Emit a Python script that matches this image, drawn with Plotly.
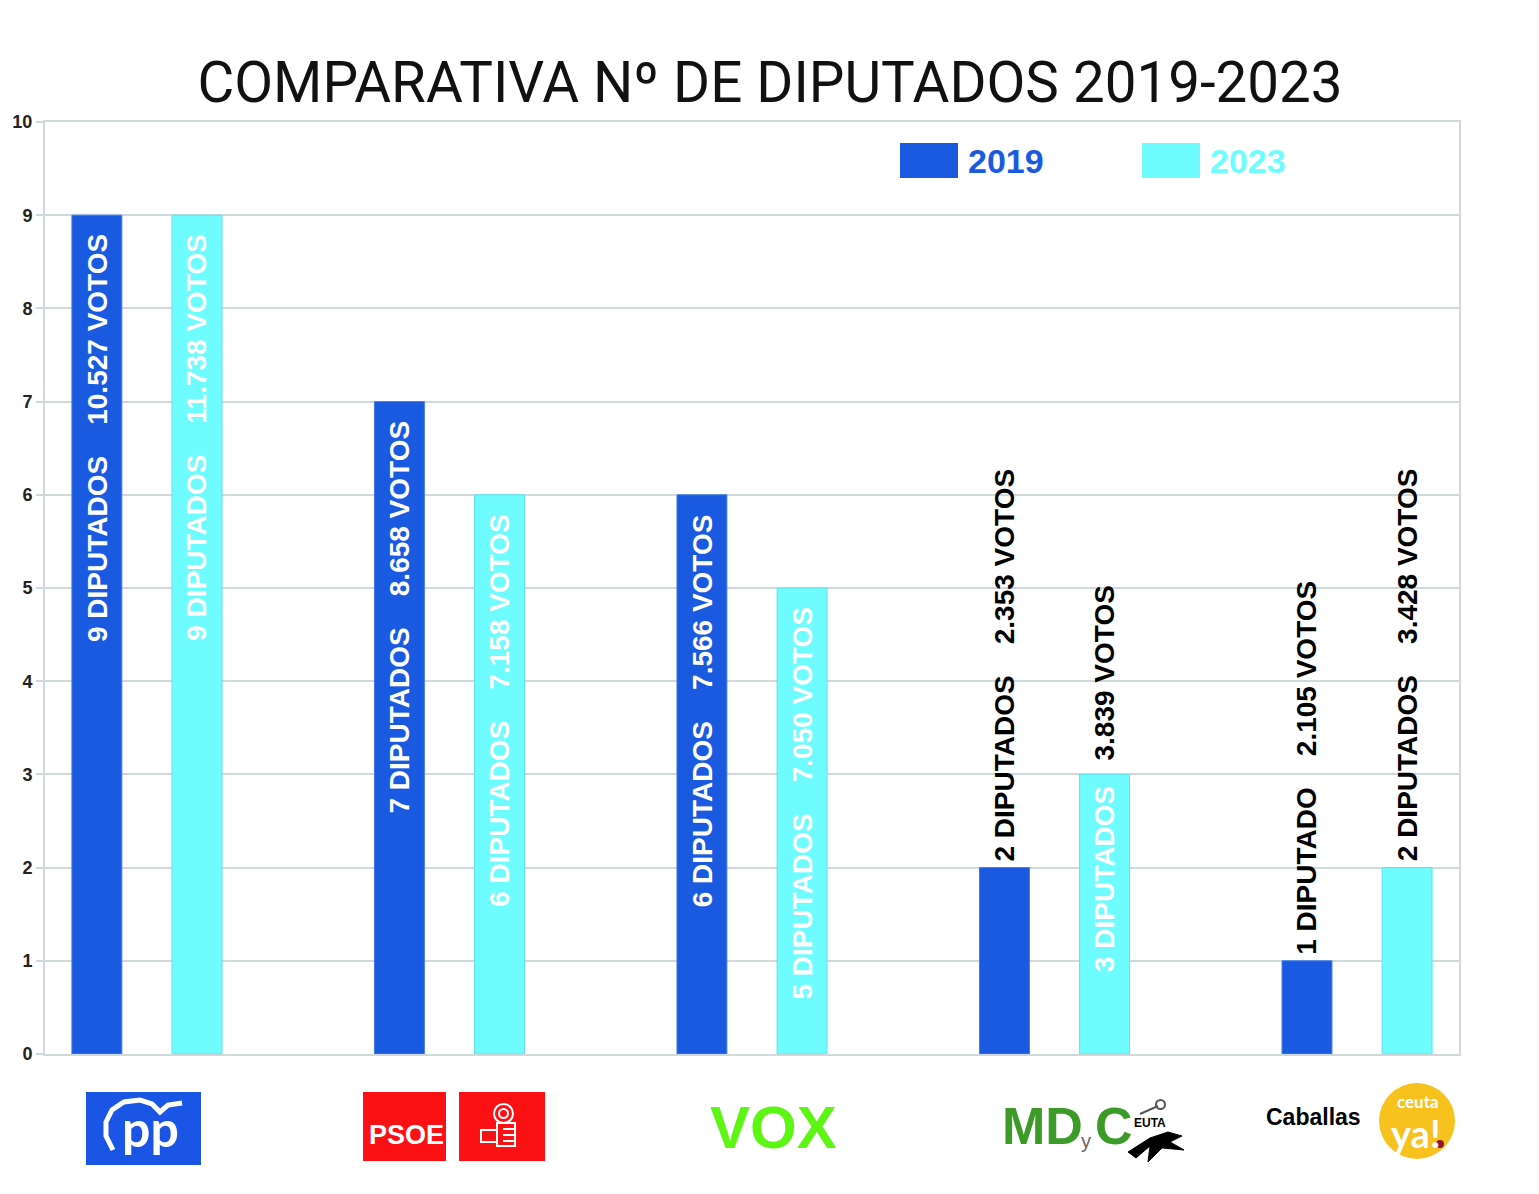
import plotly.graph_objects as go

# Datos
partidos = ['PP', 'PSOE', 'VOX', 'MDyC', 'Caballas']
diputados_2019 = [9, 7, 6, 2, 1]
diputados_2023 = [9, 6, 5, 3, 2]
votos_2019 = ['10.527', '8.658', '7.566', '2.353', '2.105']
votos_2023 = ['11.738', '7.158', '7.050', '3.839', '3.428']
years = ['2019', '2023']

AZUL = '#1a5ae0'
CIAN = '#6ffcff'
GRID = '#cfd9dc'

# page has an 8px body margin -> figure is 8px smaller and shifted
FIG_W, FIG_H = 1531, 1186
# plot area in page pixels (for logos / legend placed in paper coords)
L, T, W, H = 45, 122, 1414, 932


def px(x):
    return (x - L) / W


def py(y):
    return (T + H - y) / H


def path(points, close=False):
    s = 'M ' + ' L '.join(f'{px(a):.5f},{py(b):.5f}' for a, b in points)
    return s + (' Z' if close else '')


def note(x, y, text, font, xanchor='center', yanchor='middle'):
    return dict(x=px(x), y=py(y), xref='paper', yref='paper', text=text, showarrow=False,
                xanchor=xanchor, yanchor=yanchor, font=font)


fig = go.Figure()

BAR_W = 0.165
OFFSETS = [-0.248, 0.083]

fig.add_trace(go.Bar(
    x=partidos, y=diputados_2019, name='2019',
    width=BAR_W, offset=OFFSETS[0],
    marker=dict(color=AZUL, line=dict(color='#3f7ce6', width=1)),
    hoverinfo='skip'
))
fig.add_trace(go.Bar(
    x=partidos, y=diputados_2023, name='2023',
    width=BAR_W, offset=OFFSETS[1],
    marker=dict(color=CIAN, line=dict(color='#5fe0ee', width=1)),
    hoverinfo='skip'
))

# Vertical labels on the bars
label_font = dict(family='Liberation Sans, Arial', size=28, weight='bold')
gap = '\u00a0' * 4
annotations = []
for k, (vals, votos) in enumerate([(diputados_2019, votos_2019), (diputados_2023, votos_2023)]):
    for i, (v, s) in enumerate(zip(vals, votos)):
        xc = i + OFFSETS[k] + BAR_W / 2
        dip = f"{v}\u00a0{'DIPUTADO' if v == 1 else 'DIPUTADOS'}"
        vot = f"{s}\u00a0VOTOS"
        if v >= 5:
            annotations.append(dict(x=xc, y=v, xref='x', yref='y', text=dip + gap + vot,
                                    textangle=-90, showarrow=False, xanchor='center', yanchor='top',
                                    yshift=-17, font=dict(label_font, color='white')))
        elif v >= 3:
            annotations.append(dict(x=xc, y=v, xref='x', yref='y', text=dip,
                                    textangle=-90, showarrow=False, xanchor='center', yanchor='top',
                                    yshift=-10, font=dict(label_font, color='white')))
            annotations.append(dict(x=xc, y=v, xref='x', yref='y', text=vot,
                                    textangle=-90, showarrow=False, xanchor='center', yanchor='bottom',
                                    yshift=12, font=dict(label_font, color='black')))
        else:
            annotations.append(dict(x=xc, y=v, xref='x', yref='y', text=dip + gap + vot,
                                    textangle=-90, showarrow=False, xanchor='center', yanchor='bottom',
                                    yshift=4, font=dict(label_font, color='black')))

shapes = []

# Legend (custom)
leg_font = dict(family='Liberation Sans, Arial', size=34, weight='bold')
for color, name, x0 in [(AZUL, years[0], 900), (CIAN, years[1], 1142)]:
    shapes.append(dict(type='rect', xref='paper', yref='paper', x0=px(x0), x1=px(x0 + 58),
                       y0=py(178), y1=py(143), fillcolor=color, line=dict(width=0)))
    annotations.append(note(x0 + 66, 161, name, dict(leg_font, color=color), xanchor='left'))

# ---- Logos under the axis ----
# PP
shapes.append(dict(type='rect', xref='paper', yref='paper', x0=px(86), x1=px(201),
                   y0=py(1165), y1=py(1092), fillcolor='#1a55e6', line=dict(width=0)))
shapes.append(dict(type='path', xref='paper', yref='paper',
                   path=path([(113, 1150), (106, 1136), (106, 1122), (112, 1110), (124, 1102),
                              (140, 1100), (152, 1104), (160, 1112), (168, 1105), (182, 1103)]),
                   line=dict(color='white', width=5)))
annotations.append(note(150, 1128, 'pp', dict(family='Lato, Arial', size=50, weight='bold', color='white')))

# PSOE
for x0, x1 in [(363, 446), (459, 545)]:
    shapes.append(dict(type='rect', xref='paper', yref='paper', x0=px(x0), x1=px(x1),
                       y0=py(1161), y1=py(1092), fillcolor='#fb1014', line=dict(width=0)))
annotations.append(note(406, 1135, 'PSOE', dict(family='Liberation Sans, Arial', size=27,
                                               weight='bold', color='white')))
shapes.append(dict(type='circle', xref='paper', yref='paper', x0=px(494), x1=px(513),
                   y0=py(1123), y1=py(1104), line=dict(color='white', width=2)))
shapes.append(dict(type='circle', xref='paper', yref='paper', x0=px(499), x1=px(508),
                   y0=py(1118), y1=py(1109), line=dict(color='white', width=2)))
shapes.append(dict(type='rect', xref='paper', yref='paper', x0=px(497), x1=px(515),
                   y0=py(1146), y1=py(1123), line=dict(color='white', width=2)))
shapes.append(dict(type='rect', xref='paper', yref='paper', x0=px(481), x1=px(497),
                   y0=py(1142), y1=py(1130), line=dict(color='white', width=2)))
for yy in [1129, 1135, 1141]:
    shapes.append(dict(type='line', xref='paper', yref='paper', x0=px(503), x1=px(515),
                       y0=py(yy), y1=py(yy), line=dict(color='white', width=2)))

# VOX
annotations.append(note(773, 1127, 'VOX', dict(family='Liberation Sans, Arial', size=60,
                                              weight='bold', color='#5cf514')))

# MDyC
md_font = dict(family='Liberation Sans, Arial', size=52, weight='bold', color='#3c9a26')
annotations.append(note(1000, 1126, 'MD', md_font, xanchor='left'))
annotations.append(note(1086, 1141, 'y', dict(family='Liberation Sans, Arial', size=20, color='#666666')))
annotations.append(note(1093, 1126, 'C', md_font, xanchor='left'))
annotations.append(note(1132, 1123, 'EUTA', dict(family='Liberation Sans, Arial', size=12,
                                                weight='bold', color='black'), xanchor='left'))
shapes.append(dict(type='path', xref='paper', yref='paper',
                   path=path([(1128, 1152), (1150, 1138), (1168, 1132), (1182, 1136), (1170, 1142),
                              (1184, 1150), (1162, 1148), (1148, 1162), (1150, 1146), (1136, 1158)], close=True),
                   fillcolor='black', line=dict(color='black', width=1)))
shapes.append(dict(type='line', xref='paper', yref='paper', x0=px(1140), x1=px(1158),
                   y0=py(1114), y1=py(1106), line=dict(color='#555555', width=2)))
shapes.append(dict(type='circle', xref='paper', yref='paper', x0=px(1156), x1=px(1165),
                   y0=py(1109), y1=py(1100), line=dict(color='#555555', width=2)))

# Caballas / Ceuta Ya
annotations.append(note(1313, 1117, 'Caballas', dict(family='Liberation Sans, Arial', size=23,
                                                    weight='bold', color='black')))
shapes.append(dict(type='circle', xref='paper', yref='paper', x0=px(1379), x1=px(1455),
                   y0=py(1159), y1=py(1083), fillcolor='#f7c21e', line=dict(width=0)))
annotations.append(note(1418, 1101, 'ceuta', dict(family='Lato, Arial', size=17, weight='bold', color='white')))
annotations.append(note(1416, 1133, 'ya!', dict(family='Lato, Arial', size=38, weight='bold', color='white')))
shapes.append(dict(type='circle', xref='paper', yref='paper', x0=px(1436), x1=px(1444),
                   y0=py(1148), y1=py(1140), fillcolor='#8b1a3a', line=dict(width=0)))

fig.update_layout(
    width=FIG_W, height=FIG_H,
    margin=dict(l=L - 8, r=FIG_W - (L - 8) - W, t=T - 8, b=FIG_H - (T - 8) - H),
    paper_bgcolor='white', plot_bgcolor='white',
    barmode='overlay',
    showlegend=False,
    title=dict(text='COMPARATIVA Nº DE DIPUTADOS 2019-2023', x=762 / FIG_W, xanchor='center',
               y=1 - 74 / FIG_H, yanchor='middle',
               font=dict(family='Roboto, Arial', size=56.5, color='#111111')),
    annotations=annotations,
    shapes=shapes,
)

fig.update_xaxes(range=[-0.337, 4.337], showticklabels=False, ticks='', showgrid=False,
                 showline=True, linecolor=GRID, linewidth=2, mirror=True, zeroline=False,
                 automargin=False)
fig.update_yaxes(range=[0, 10], dtick=1, showgrid=True, gridcolor=GRID, gridwidth=2,
                 showline=True, linecolor=GRID, linewidth=2, mirror=True, zeroline=False,
                 ticks='outside', ticklen=7, tickcolor=GRID, tickwidth=2, automargin=False,
                 tickfont=dict(family='Liberation Sans, Arial', size=18, weight='bold', color='#222222'))

fig.write_html('out.html')
